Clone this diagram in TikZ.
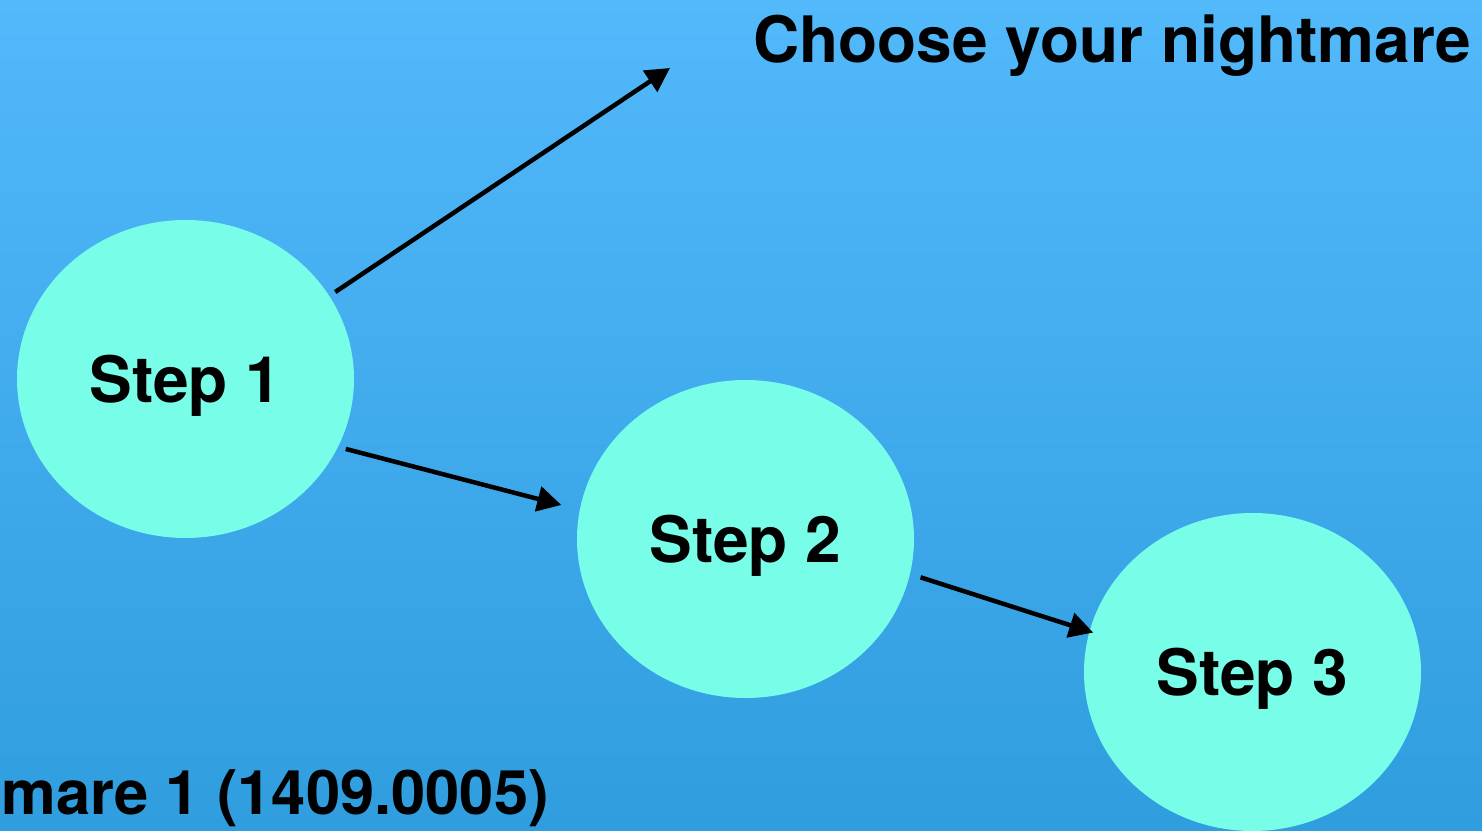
\documentclass[tikz,border=0pt]{standalone}
\usepackage{fontspec}
\setmainfont{TeX Gyre Heros}
\usetikzlibrary{shapes.geometric,arrows.meta}
\definecolor{bgtop}{HTML}{52B9FB}
\definecolor{bgbot}{HTML}{2F9DDE}
\definecolor{stepfill}{HTML}{78FDE9}
\tikzset{
  stepnode/.style={ellipse, fill=stepfill, minimum width=337pt, minimum height=318pt,
    inner sep=0pt, text depth=0pt, text height=46pt,
    font=\fontsize{64}{76}\selectfont\bfseries},
  arr/.style={line width=4.5pt, -{Triangle[length=24pt,width=25pt]}},
  title/.style={inner sep=0pt, font=\fontsize{64}{76}\selectfont\bfseries}
}
\begin{document}
\begin{tikzpicture}[x=1pt,y=-1pt]
\useasboundingbox (0,0) rectangle (1482,830);
\clip (0,0) rectangle (1482,830);
\shade[top color=bgtop, bottom color=bgbot] (0,0) rectangle (1482,830);
\node[stepnode] (s1) at (185.5,379) {Step 1};
\node[stepnode] (s2) at (745.5,539) {Step 2};
\node[stepnode] (s3) at (1252.5,672) {Step 3};
\node[title, anchor=base east] (t1) at (1471,62) {Choose your nightmare};
\node[title, anchor=base east, font=\fontsize{61.5}{74}\selectfont\bfseries] (t2) at (549,814) {mare 1 (1409.0005)};
\coordinate (top) at (670,68);
\draw[arr, shorten <=7pt] (s1.30) -- (top);
\draw[arr, shorten <=8pt, shorten >=19pt] (s1.-24) -- (s2.170);
\draw[arr, shorten <=11pt, shorten >=-4pt] (s2.-12) -- (s3.166.6);
\end{tikzpicture}
\end{document}
